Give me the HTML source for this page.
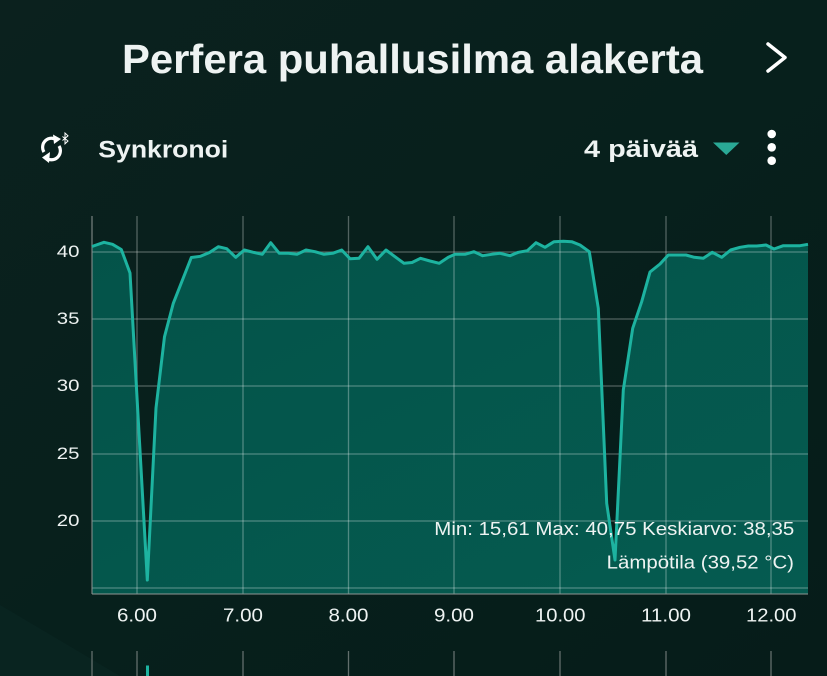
<!DOCTYPE html>
<html><head><meta charset="utf-8">
<style>
html,body{margin:0;padding:0;width:827px;height:676px;overflow:hidden;background:#08201d;}
svg{display:block}
text{font-family:"Liberation Sans",sans-serif;fill:#eef3f2}
</style></head><body>
<svg width="827" height="676" viewBox="0 0 827 676" xmlns="http://www.w3.org/2000/svg">
<defs>
<linearGradient id="bg" x1="0" y1="0" x2="1" y2="1">
<stop offset="0" stop-color="#0b211e"/>
<stop offset="0.5" stop-color="#07201c"/>
<stop offset="1" stop-color="#061c19"/>
</linearGradient>
<linearGradient id="fillg" x1="0" y1="0" x2="1" y2="1">
<stop offset="0" stop-color="#045349"/>
<stop offset="1" stop-color="#055b50"/>
</linearGradient>
</defs>
<rect width="827" height="676" fill="url(#bg)"/>
<polygon points="0,605 120,676 0,676" fill="#0c2b27" opacity="0.4"/>

<!-- header -->
<text x="122" y="73" font-size="41" font-weight="bold" textLength="581" lengthAdjust="spacingAndGlyphs">Perfera puhallusilma alakerta</text>
<polyline points="768,44 785,57.5 768,71" fill="none" stroke="#fff" stroke-width="3.5" stroke-linecap="round" stroke-linejoin="round"/>

<!-- sync icon -->
<g fill="none" stroke="#fff" stroke-width="3.2">
<path d="M44,152 A9,9 0 0 1 57,140"/>
<path d="M59,146 A9,9 0 0 1 46,158"/>
</g>
<polygon points="53,134.5 61,139 54,144" fill="#fff"/>
<polygon points="50,152 42,157.5 49,163" fill="#fff"/>
<path d="M62.5,136.5 L68,141 L65,143.8 V133 L68,135.8 L62.5,140.5" fill="none" stroke="#fff" stroke-width="1"/>
<text x="98.3" y="157.3" font-size="24" font-weight="bold" textLength="130" lengthAdjust="spacingAndGlyphs">Synkronoi</text>

<text x="584" y="157" font-size="24" font-weight="bold" textLength="114" lengthAdjust="spacingAndGlyphs">4 päivää</text>
<polygon points="713,142.5 739.5,142.5 726.3,155" fill="#2aa996"/>
<circle cx="771.7" cy="134" r="4.3" fill="#fff"/>
<circle cx="771.7" cy="147.3" r="4.3" fill="#fff"/>
<circle cx="771.7" cy="160.7" r="4.3" fill="#fff"/>

<!-- chart fill -->
<path fill="url(#fillg)" d="M92,594 L92,246.5 L104,242.3 L112.5,244.3 L121.3,249.5 L130,273 L147.3,580 L156,408 L164.5,336.7 L173.3,303.3 L191.3,257.5 L200.5,256.3 L209.5,252.5 L218.3,246.7 L226.7,248.7 L235.7,257.3 L244.3,250 L253.3,252.3 L262.3,254.3 L270.7,242.7 L279.3,253.3 L288.3,253.3 L297,254.3 L306,250 L315,251.7 L324,254.3 L332.7,253.3 L341.7,250 L350,258.7 L359,258.3 L368,246.7 L377,259.3 L386,250 L395,256.7 L404,263.3 L412,262.5 L420.5,258.3 L430,261 L439.3,263.3 L448.3,257.3 L455,254.3 L465,254.3 L474,251.7 L482.7,255.7 L491.7,254.3 L500,253.3 L510,255.7 L518.3,252.3 L527.3,250.7 L536,242.7 L545,247.3 L554,241.7 L563.3,241.3 L571.7,241.7 L580,245 L589.3,251.7 L598.3,308.3 L606.7,503.3 L615,560 L623.3,390 L632.7,328.3 L641.7,301.7 L650,272 L660,264 L668.3,255 L676.7,255 L686,255 L694.3,257.3 L703.3,258.3 L712.3,252.3 L721.7,257.3 L730.7,250 L740,247.3 L748.3,246 L756.7,246 L766,245 L774,249 L783.3,245.7 L791.7,245.7 L800,245.7 L808,244.3 L808,594 Z"/>

<!-- grid -->
<g stroke="#ffffff" stroke-opacity="0.3" stroke-width="1.3">
<line x1="92" y1="252" x2="808" y2="252"/>
<line x1="92" y1="319" x2="808" y2="319"/>
<line x1="92" y1="386" x2="808" y2="386"/>
<line x1="92" y1="454" x2="808" y2="454"/>
<line x1="92" y1="521" x2="808" y2="521"/>
<line x1="92" y1="588" x2="808" y2="588"/>
<line x1="137" y1="216" x2="137" y2="594"/>
<line x1="243" y1="216" x2="243" y2="594"/>
<line x1="348.5" y1="216" x2="348.5" y2="594"/>
<line x1="454" y1="216" x2="454" y2="594"/>
<line x1="560" y1="216" x2="560" y2="594"/>
<line x1="666" y1="216" x2="666" y2="594"/>
<line x1="771" y1="216" x2="771" y2="594"/>
</g>
<g stroke="#8a9290" stroke-opacity="0.7" stroke-width="1.5">
<line x1="92" y1="216" x2="92" y2="594"/>
<line x1="92" y1="594" x2="808" y2="594"/>
</g>

<!-- line -->
<polyline fill="none" stroke="#1db3a0" stroke-width="3" stroke-linejoin="round" points="92,246.5 104,242.3 112.5,244.3 121.3,249.5 130,273 147.3,580 156,408 164.5,336.7 173.3,303.3 191.3,257.5 200.5,256.3 209.5,252.5 218.3,246.7 226.7,248.7 235.7,257.3 244.3,250 253.3,252.3 262.3,254.3 270.7,242.7 279.3,253.3 288.3,253.3 297,254.3 306,250 315,251.7 324,254.3 332.7,253.3 341.7,250 350,258.7 359,258.3 368,246.7 377,259.3 386,250 395,256.7 404,263.3 412,262.5 420.5,258.3 430,261 439.3,263.3 448.3,257.3 455,254.3 465,254.3 474,251.7 482.7,255.7 491.7,254.3 500,253.3 510,255.7 518.3,252.3 527.3,250.7 536,242.7 545,247.3 554,241.7 563.3,241.3 571.7,241.7 580,245 589.3,251.7 598.3,308.3 606.7,503.3 615,560 623.3,390 632.7,328.3 641.7,301.7 650,272 660,264 668.3,255 676.7,255 686,255 694.3,257.3 703.3,258.3 712.3,252.3 721.7,257.3 730.7,250 740,247.3 748.3,246 756.7,246 766,245 774,249 783.3,245.7 791.7,245.7 800,245.7 808,244.3"/>

<!-- y labels -->
<g font-size="17" text-anchor="end">
<text x="79.5" y="257" textLength="22.7" lengthAdjust="spacingAndGlyphs">40</text>
<text x="79.5" y="324" textLength="22.7" lengthAdjust="spacingAndGlyphs">35</text>
<text x="79.5" y="391" textLength="22.7" lengthAdjust="spacingAndGlyphs">30</text>
<text x="79.5" y="459" textLength="22.7" lengthAdjust="spacingAndGlyphs">25</text>
<text x="79.5" y="526" textLength="22.7" lengthAdjust="spacingAndGlyphs">20</text>
</g>

<!-- x labels -->
<g font-size="18">
<text x="117" y="621.7" textLength="40" lengthAdjust="spacingAndGlyphs">6.00</text>
<text x="223" y="621.7" textLength="40" lengthAdjust="spacingAndGlyphs">7.00</text>
<text x="328.5" y="621.7" textLength="40" lengthAdjust="spacingAndGlyphs">8.00</text>
<text x="434" y="621.7" textLength="40" lengthAdjust="spacingAndGlyphs">9.00</text>
<text x="535" y="621.7" textLength="50.5" lengthAdjust="spacingAndGlyphs">10.00</text>
<text x="641" y="621.7" textLength="50" lengthAdjust="spacingAndGlyphs">11.00</text>
<text x="746" y="621.7" textLength="50.5" lengthAdjust="spacingAndGlyphs">12.00</text>
</g>

<!-- stats -->
<text x="434.3" y="535" font-size="18.5" textLength="360" lengthAdjust="spacingAndGlyphs">Min: 15,61 Max: 40,75 Keskiarvo: 38,35</text>
<text x="606.7" y="568.5" font-size="18.5" textLength="187.3" lengthAdjust="spacingAndGlyphs">Lämpötila (39,52 °C)</text>

<!-- bottom partial chart -->
<g stroke="#8a9290" stroke-opacity="0.7" stroke-width="1.3">
<line x1="92" y1="651" x2="92" y2="676"/>
<line x1="137" y1="651" x2="137" y2="676"/>
<line x1="243" y1="651" x2="243" y2="676"/>
<line x1="348.5" y1="651" x2="348.5" y2="676"/>
<line x1="454" y1="651" x2="454" y2="676"/>
<line x1="560" y1="651" x2="560" y2="676"/>
<line x1="666" y1="651" x2="666" y2="676"/>
<line x1="771" y1="651" x2="771" y2="676"/>
</g>
<rect x="146" y="665.5" width="3" height="11" fill="#1db3a0"/>
</svg>
</body></html>
